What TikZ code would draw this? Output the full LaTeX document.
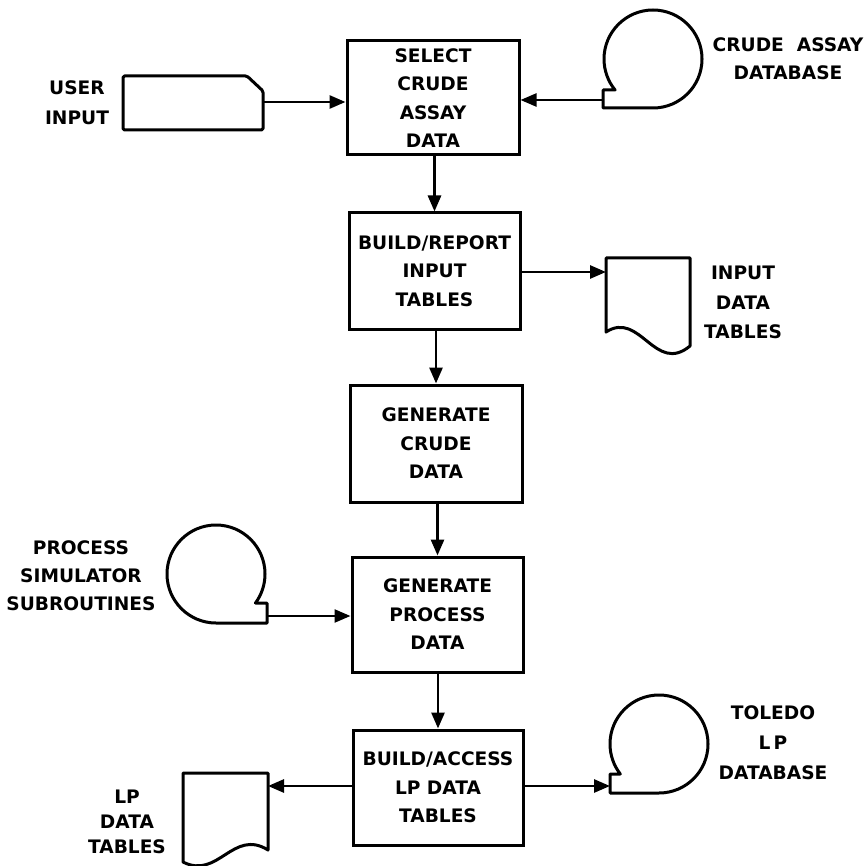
\documentclass[tikz,border=0pt]{standalone}
\usepackage{fontspec}
\setmainfont{DejaVu Sans}
\usetikzlibrary{arrows.meta}
\begin{document}
\begin{tikzpicture}[x=1pt,y=-1pt,
  lbl/.style={font=\fontsize{18.6}{#1}\selectfont\bfseries, align=center, inner sep=0pt},
  lbl/.default=28.5,
  procbox/.style={draw, line width=3pt, lbl},
  outl/.style={draw, line width=3pt, line join=round},
  flow/.style={line width=2.8pt, -{Triangle[length=16pt,width=13pt]}},
  tapeflow/.style={line width=2.4pt, -{Triangle[length=16pt,width=13pt]}}
]
\useasboundingbox (0,0) rectangle (865,866);

% processing steps
\node[procbox, minimum width=172pt, minimum height=114pt] (b1) at (433,98) {SELECT\\CRUDE\\ASSAY\\DATA};
\node[procbox, minimum width=171pt, minimum height=116pt] (b2) at (434.5,271) {BUILD/REPORT\\INPUT\\TABLES};
\node[procbox, minimum width=172pt, minimum height=117pt] (b3) at (436,443.5) {GENERATE\\CRUDE\\DATA};
\node[procbox, minimum width=171pt, minimum height=115pt] (b4) at (437.5,614.5) {GENERATE\\PROCESS\\DATA};
\node[procbox, minimum width=170pt, minimum height=115pt] (b5) at (438,787.5) {BUILD/ACCESS\\LP DATA\\TABLES};

% main flow
\draw[flow] (b1.south -| b2.north) -- (b2.north);
\draw[flow] (b2.south -| b3.north) -- (b3.north);
\draw[flow] (b3.south -| b4.north) -- (b4.north);
\draw[flow] (b4.south -| b5.north) -- (b5.north);

% user input card
\draw[outl, rounded corners=1.5pt] (123,76) -- (247,76) -- (263,91) -- (263,130) -- (123,130) -- cycle;
\coordinate (uiout) at (263,102);
\node[lbl=30] (uilbl) at (77,103) {USER\\INPUT};
\draw[flow] (uiout) -- (uiout -| b1.west);

% crude assay database tape
\draw[outl] (653,108) arc[start angle=270, end angle=579.25, radius=49pt] -- (603,90) -- (603,108) -- cycle;
\coordinate (caout) at (603,100);
\node[lbl=28] (calbl) at (788,59) {CRUDE\ \ ASSAY\\DATABASE};
\draw[tapeflow] (caout) -- (caout -| b1.east);

% input data tables document
\draw[outl] (606,258) -- (690,258) -- (690,346) .. controls (655,375) and (640,310) .. (606,332) -- cycle;
\coordinate (idin) at (606,272);
\node[lbl=29.5] (idlbl) at (743,302.5) {INPUT\\DATA\\TABLES};
\draw[flow] (b2.east |- idin) -- (idin);

% process simulator tape
\draw[outl] (216,623) arc[start angle=270, end angle=-36.3, radius=49pt] -- (267,603) -- (267,623) -- cycle;
\coordinate (psout) at (267,616);
\node[lbl=28] (pslbl) at (81,576) {PROCESS\\SIMULATOR\\SUBROUTINES};
\draw[tapeflow] (psout) -- (psout -| b4.west);

% LP data tables document
\draw[outl] (268,773) -- (183,773) -- (183,862) .. controls (218,880) and (233,828) .. (268,850) -- cycle;
\coordinate (lpin) at (268,786);
\node[lbl=25] (lplbl) at (127,822) {LP\\DATA\\TABLES};
\draw[flow] (b5.west |- lpin) -- (lpin);

% Toledo LP database tape
\draw[outl] (659,793) arc[start angle=270, end angle=577.75, radius=49pt] -- (610,774) -- (610,793) -- cycle;
\coordinate (tlin) at (610,786);
\node[lbl=30] (tllbl) at (773,743) {TOLEDO\\L\,P\\DATABASE};
\draw[flow] (b5.east |- tlin) -- (tlin);
\end{tikzpicture}
\end{document}
